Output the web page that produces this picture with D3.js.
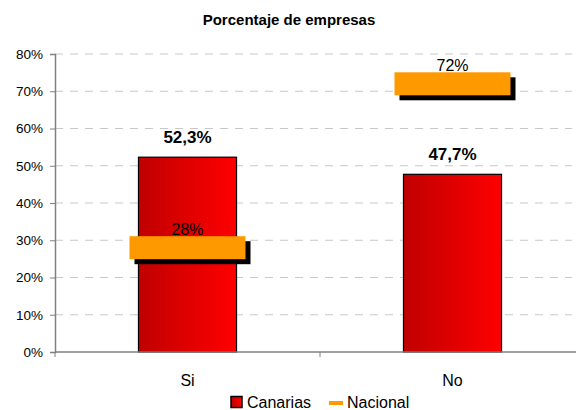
<!DOCTYPE html>
<html>
<head>
<meta charset="utf-8">
<script src="https://cdn.jsdelivr.net/npm/d3@7"></script>
<style>
	body { margin: 0; background: #fff; }
	text { font-family: "Liberation Sans", Arial, sans-serif; }
</style>
</head>
<body>
<div id="chart"></div>
<script>
const categories = ["Si", "No"];
const canarias = [52.3, 47.7];
const nacional = [28, 72];
const canariasLabels = ["52,3%", "47,7%"];
const nacionalLabels = ["28%", "72%"];
const yTicks = [0, 10, 20, 30, 40, 50, 60, 70, 80];

const width = 576;
const height = 410;
const margin = { left: 55, top: 54, right: -9, bottom: 58 };
const plotW = width - margin.left - margin.right;
const plotH = height - margin.top - margin.bottom;

const svg = d3
	.select("#chart")
	.append("svg")
	.attr("width", width)
	.attr("height", height);

const defs = svg.append("defs");
const grad = defs.append("linearGradient").attr("id", "redGrad").attr("x1", "0%").attr("x2", "100%");
grad.append("stop").attr("offset", "0%").attr("stop-color", "#c00000");
grad.append("stop").attr("offset", "100%").attr("stop-color", "#ff0000");

// title
svg.append("text")
	.attr("x", 289)
	.attr("y", 25)
	.attr("text-anchor", "middle")
	.attr("font-size", "15px")
	.attr("font-weight", "bold")
	.text("Porcentaje de empresas");

const g = svg.append("g").attr("transform", `translate(${margin.left},${margin.top})`);

const x = d3.scaleBand().domain(categories).range([0, plotW]);
const y = d3.scaleLinear().domain([0, 80]).range([plotH, 0]);

// gridlines
g.selectAll(".grid")
	.data(yTicks.filter((t) => t > 0))
	.enter()
	.append("line")
	.attr("x1", 0)
	.attr("x2", 517)
	.attr("y1", (d) => y(d))
	.attr("y2", (d) => y(d))
	.attr("stroke", "#c8c8c8")
	.attr("stroke-dasharray", "8,7");

// y axis
const yAxis = g.append("g")
	.call(d3.axisLeft(y).tickValues(yTicks).tickFormat((d) => d + "%").tickSize(5).tickPadding(7));
yAxis.select(".domain").attr("stroke", "#808080").attr("stroke-width", 1.5);
yAxis.selectAll(".tick line").attr("stroke", "#808080");
yAxis.selectAll("text").attr("font-size", "13.5px").attr("fill", "#000").attr("font-family", "Liberation Sans, Arial, sans-serif");

// bars
const barW = x.bandwidth() * 0.37;
g.selectAll(".bar")
	.data(canarias)
	.enter()
	.append("rect")
	.attr("x", (d, i) => x(categories[i]) + x.bandwidth() / 2 - barW / 2)
	.attr("y", (d) => y(d))
	.attr("width", barW)
	.attr("height", (d) => plotH - y(d))
	.attr("fill", "url(#redGrad)")
	.attr("stroke", "#000")
	.attr("stroke-width", 1.2);

// x axis
g.append("line")
	.attr("x1", 0).attr("x2", plotW)
	.attr("y1", plotH).attr("y2", plotH)
	.attr("stroke", "#808080").attr("stroke-width", 1.5);
g.selectAll(".xtick")
	.data([0, x.bandwidth()])
	.enter()
	.append("line")
	.attr("x1", (d) => d).attr("x2", (d) => d)
	.attr("y1", plotH).attr("y2", plotH + 5)
	.attr("stroke", "#808080");
g.selectAll(".xlabel")
	.data(categories)
	.enter()
	.append("text")
	.attr("x", (d) => x(d) + x.bandwidth() / 2)
	.attr("y", plotH + 34)
	.attr("text-anchor", "middle")
	.attr("font-size", "16px")
	.text((d) => d);

// bar labels
g.selectAll(".barlabel")
	.data(canarias)
	.enter()
	.append("text")
	.attr("x", (d, i) => x(categories[i]) + x.bandwidth() / 2)
	.attr("y", (d) => y(d) - 14)
	.attr("text-anchor", "middle")
	.attr("font-size", "17px")
	.attr("font-weight", "bold")
	.text((d, i) => canariasLabels[i]);

// nacional labels (drawn under markers)
g.selectAll(".natlabel")
	.data(nacional)
	.enter()
	.append("text")
	.attr("x", (d, i) => x(categories[i]) + x.bandwidth() / 2)
	.attr("y", (d) => y(d) - 13)
	.attr("text-anchor", "middle")
	.attr("font-size", "16px")
	.text((d, i) => nacionalLabels[i]);

// nacional markers
const mW = 116;
const mH = 23;
g.selectAll(".shadow")
	.data(nacional)
	.enter()
	.append("rect")
	.attr("x", (d, i) => x(categories[i]) + x.bandwidth() / 2 - mW / 2 + 5)
	.attr("y", (d) => y(d) - mH / 2 + 5)
	.attr("width", mW)
	.attr("height", mH)
	.attr("fill", "#000");
g.selectAll(".marker")
	.data(nacional)
	.enter()
	.append("rect")
	.attr("x", (d, i) => x(categories[i]) + x.bandwidth() / 2 - mW / 2)
	.attr("y", (d) => y(d) - mH / 2)
	.attr("width", mW)
	.attr("height", mH)
	.attr("fill", "#ff9900");

// legend
const legend = svg.append("g");
legend.append("rect")
	.attr("x", 231).attr("y", 396.5)
	.attr("width", 11).attr("height", 11)
	.attr("fill", "url(#redGrad)")
	.attr("stroke", "#000").attr("stroke-width", 1.5);
legend.append("text")
	.attr("x", 247).attr("y", 408)
	.attr("font-size", "16px")
	.text("Canarias");
legend.append("line")
	.attr("x1", 329).attr("x2", 343)
	.attr("y1", 403).attr("y2", 403)
	.attr("stroke", "#ff9900").attr("stroke-width", 4);
legend.append("text")
	.attr("x", 347).attr("y", 408)
	.attr("font-size", "16px")
	.text("Nacional");
</script>
</body>
</html>
